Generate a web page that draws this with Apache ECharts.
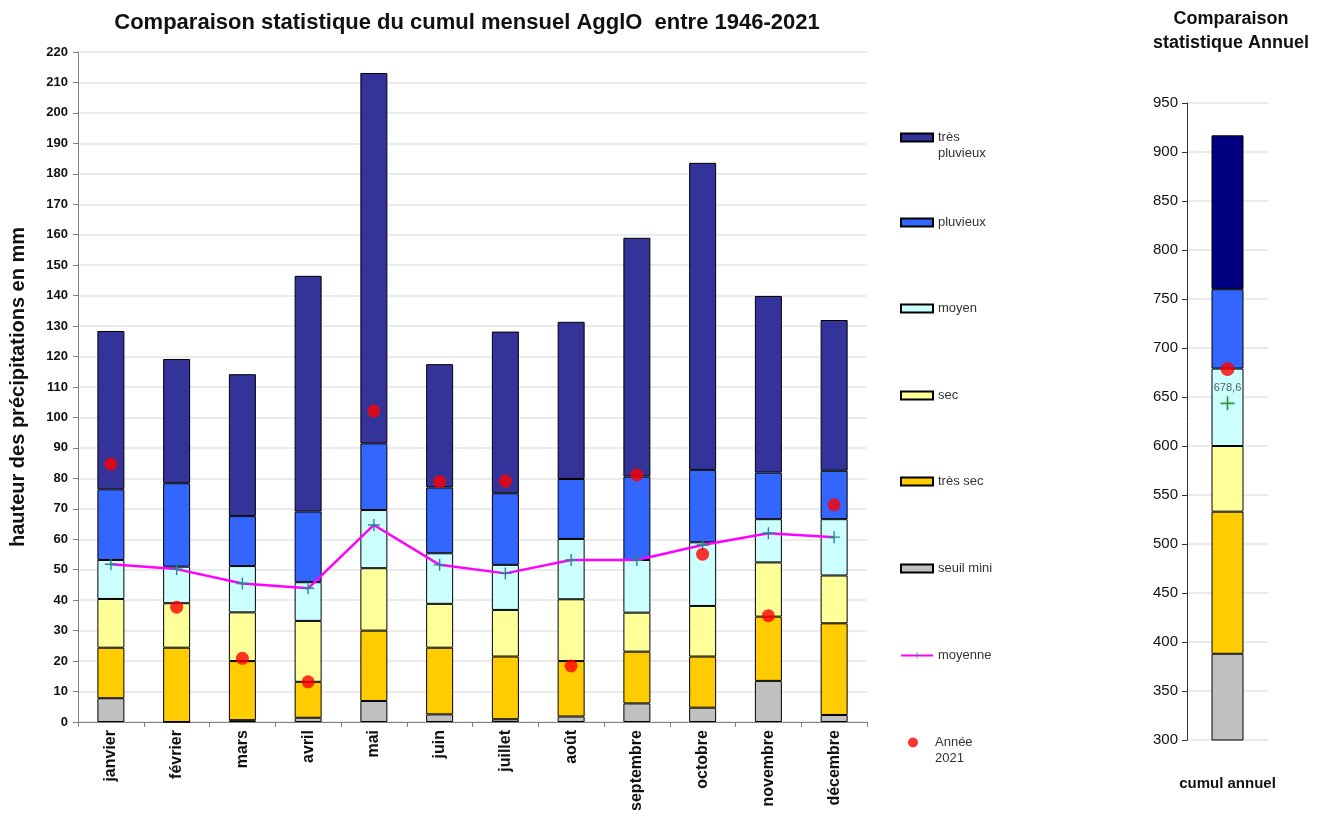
<!DOCTYPE html>
<html>
<head>
<meta charset="utf-8">
<script src="https://cdn.jsdelivr.net/npm/echarts@6/dist/echarts.min.js"></script>
<style>
  html, body { margin: 0; padding: 0; background: #fff; }
  #chart { width: 1319px; height: 816px; }
</style>
</head>
<body>
<div id="chart"></div>
<script>
// Monthly categories
const months = ['janvier', 'février', 'mars', 'avril', 'mai', 'juin', 'juillet', 'août', 'septembre', 'octobre', 'novembre', 'décembre'];

// Upper bound of each class, per month (mm)
const seuilMini      = [7.8, 0, 0.6, 1.4, 6.9, 2.5, 0.9, 1.8, 6.1, 4.7, 13.5, 2.3];
const tresSecTop     = [24.4, 24.4, 20.0, 13.2, 30.0, 24.4, 21.5, 20.0, 23.1, 21.5, 34.6, 32.4];
const secTop         = [40.4, 39.0, 36.0, 33.2, 50.5, 38.8, 36.8, 40.3, 35.9, 38.1, 52.4, 48.1];
const moyenTop       = [53.2, 51.0, 51.2, 45.9, 69.6, 55.4, 51.6, 60.1, 53.2, 59.0, 66.6, 66.6];
const pluvieuxTop    = [76.4, 78.4, 67.6, 69.1, 91.5, 77.0, 75.1, 79.8, 80.6, 82.8, 81.9, 82.5];
const tresPluvieuxTop = [128.4, 119.2, 114.2, 146.5, 213.1, 117.5, 128.2, 131.4, 159.0, 183.6, 139.9, 132.0];

// Monthly mean 1946-2021 and year 2021 (mm)
const moyenne   = [51.8, 50.2, 45.5, 43.9, 64.7, 51.6, 48.8, 53.2, 53.2, 58.1, 62.0, 60.7];
const annee2021 = [84.7, 37.7, 20.9, 13.2, 102.1, 78.9, 79.1, 18.4, 81.1, 55.1, 34.9, 71.3];

// Annual totals: class upper bounds, mean, and 2021 (mm)
const annualCategory   = ['cumul annuel'];
const annualThresholds = [388, 533, 600, 679, 760, 917];
const annualMean       = [643.5];
const annual2021       = [678.6];

// Axis ticks
const monthAxis  = { min: 0, max: 220, interval: 10 };
const annualAxis = { min: 300, max: 950, interval: 50 };

const classNames   = ['seuil mini', 'très sec', 'sec', 'moyen', 'pluvieux', 'très pluvieux'];
const monthColors  = ['#C0C0C0', '#FFCC00', '#FFFF99', '#CCFFFF', '#3366FF', '#333399'];
const annualColors = ['#C0C0C0', '#FFCC00', '#FFFF99', '#CCFFFF', '#3366FF', '#000080'];

const FONT = '"Liberation Sans", Arial, Helvetica, sans-serif';
const PLUS = 'path://M5.3,0H6.7V5.3H12V6.7H6.7V12H5.3V6.7H0V5.3H5.3Z';

// Convert cumulative bounds into stacked segment heights
const bounds = [seuilMini, tresSecTop, secTop, moyenTop, pluvieuxTop, tresPluvieuxTop];
const segments = bounds.map((arr, k) =>
  arr.map((v, i) => +(k === 0 ? v : v - bounds[k - 1][i]).toFixed(2)));
const annualSegments = annualThresholds.map((v, k) =>
  k === 0 ? v : +(v - annualThresholds[k - 1]).toFixed(2));

const series = [];
classNames.forEach((name, k) => {
  series.push({
    name, type: 'bar', stack: 'mois', xAxisIndex: 0, yAxisIndex: 0,
    barWidth: 27, data: segments[k],
    itemStyle: { color: monthColors[k], borderColor: '#000', borderWidth: 1 },
    emphasis: { disabled: true }
  });
});
series.push({
  name: 'moyenne', type: 'line', xAxisIndex: 0, yAxisIndex: 0, data: moyenne,
  symbol: PLUS, symbolSize: 12, z: 5,
  lineStyle: { color: '#FF00FF', width: 2.5 },
  itemStyle: { color: '#1E8C8C' }
});
series.push({
  name: 'Année 2021', type: 'scatter', xAxisIndex: 0, yAxisIndex: 0, data: annee2021,
  symbol: 'circle', symbolSize: 13, z: 6,
  itemStyle: { color: '#FF0000' }
});
classNames.forEach((name, k) => {
  series.push({
    name, type: 'bar', stack: 'an', xAxisIndex: 1, yAxisIndex: 1,
    barWidth: 32, data: [annualSegments[k]],
    itemStyle: { color: annualColors[k], borderColor: '#000', borderWidth: 1 },
    emphasis: { disabled: true }
  });
});
series.push({
  name: 'moyenne annuelle', type: 'scatter', xAxisIndex: 1, yAxisIndex: 1, data: annualMean,
  symbol: PLUS, symbolSize: 14, z: 5, itemStyle: { color: '#008000' }
});
series.push({
  name: 'cumul 2021', type: 'scatter', xAxisIndex: 1, yAxisIndex: 1, data: annual2021,
  symbol: 'circle', symbolSize: 14, z: 6, itemStyle: { color: '#FF0000' },
  label: {
    show: true, position: 'bottom', distance: 6, fontFamily: FONT, fontSize: 11, color: '#333',
    formatter: p => String(p.value).replace('.', ',')
  }
});

// One legend block per entry, stacked down the right side of the monthly chart;
// two-word entries wrap, their second word is set just under the first
const legendRows = [
  ['très pluvieux', 137, 'très', 'pluvieux'],
  ['pluvieux', 222],
  ['moyen', 308],
  ['sec', 395],
  ['très sec', 481],
  ['seuil mini', 568],
  ['moyenne', 655],
  ['Année 2021', 742, 'Année', '2021']
];
const legendText = { fontFamily: FONT, fontSize: 13, color: '#333' };
const legends = legendRows.map(([name, y, first]) => {
  const isDot = name === 'Année 2021';
  const isLine = name === 'moyenne';
  return {
    data: [name], left: isDot ? 903 : 895, top: y - 11,
    selectedMode: false,
    itemWidth: isDot ? 10 : 32, itemHeight: isDot ? 10 : 8,
    icon: isDot ? 'circle' : (isLine ? undefined : 'rect'),
    formatter: () => first || name,
    textStyle: Object.assign({ padding: [0, 0, 0, isDot ? 12 : 0] }, legendText)
  };
});
const legendSecondLines = legendRows.filter(r => r[3]).map(([name, y, first, second]) => ({
  type: 'text', left: name === 'Année 2021' ? 935 : 938, top: y + 10,
  style: { text: second, font: '13px ' + FONT, fill: '#333' }
}));

const chart = echarts.init(document.getElementById('chart'), null, { renderer: 'canvas' });
chart.setOption({
  animation: false,
  backgroundColor: '#fff',
  title: [
    {
      text: 'Comparaison statistique du cumul mensuel AgglO  entre 1946-2021',
      left: 462, top: 7, textAlign: 'center',
      textStyle: { fontFamily: FONT, fontSize: 22, fontWeight: 'bold', color: '#111' }
    },
    {
      text: 'Comparaison\nstatistique Annuel',
      left: 1226, top: 2, textAlign: 'center',
      textStyle: { fontFamily: FONT, fontSize: 18, fontWeight: 'bold', color: '#111', lineHeight: 24 }
    }
  ],
  legend: legends,
  graphic: legendSecondLines,
  grid: [
    { left: 75, right: 452, top: 52, bottom: 94 },
    { left: 1187, width: 81, top: 103, bottom: 76 }
  ],
  xAxis: [
    {
      type: 'category', gridIndex: 0, data: months,
      axisLine: { lineStyle: { color: '#808080', width: 1 } },
      axisTick: { show: true, length: 5, lineStyle: { color: '#808080' } },
      axisLabel: {
        rotate: 90, margin: 8, interval: 0,
        fontFamily: FONT, fontSize: 16, fontWeight: 'bold', color: '#111'
      }
    },
    {
      type: 'category', gridIndex: 1, data: annualCategory,
      axisLine: { show: false }, axisTick: { show: false },
      axisLabel: { margin: 36, fontFamily: FONT, fontSize: 15, fontWeight: 'bold', color: '#111' }
    }
  ],
  yAxis: [
    {
      type: 'value', gridIndex: 0,
      min: monthAxis.min, max: monthAxis.max, interval: monthAxis.interval,
      name: 'hauteur des précipitations en mm', nameLocation: 'middle', nameGap: 50,
      nameTextStyle: { fontFamily: FONT, fontSize: 20, fontWeight: 'bold', color: '#111' },
      axisLine: { show: true, lineStyle: { color: '#808080' } },
      axisTick: { show: true, length: 5, lineStyle: { color: '#808080' } },
      axisLabel: { margin: 10, fontFamily: FONT, fontSize: 13, fontWeight: 'bold', color: '#111' },
      splitLine: { lineStyle: { color: '#E4E4E4', width: 1.5 } }
    },
    {
      type: 'value', gridIndex: 1,
      min: annualAxis.min, max: annualAxis.max, interval: annualAxis.interval,
      axisLine: { show: true, lineStyle: { color: '#333' } },
      axisTick: { show: true, length: 5, lineStyle: { color: '#333' } },
      axisLabel: { margin: 9, fontFamily: FONT, fontSize: 15, color: '#111' },
      splitLine: { lineStyle: { color: '#E4E4E4', width: 1.5 } }
    }
  ],
  series
});
</script>
</body>
</html>
